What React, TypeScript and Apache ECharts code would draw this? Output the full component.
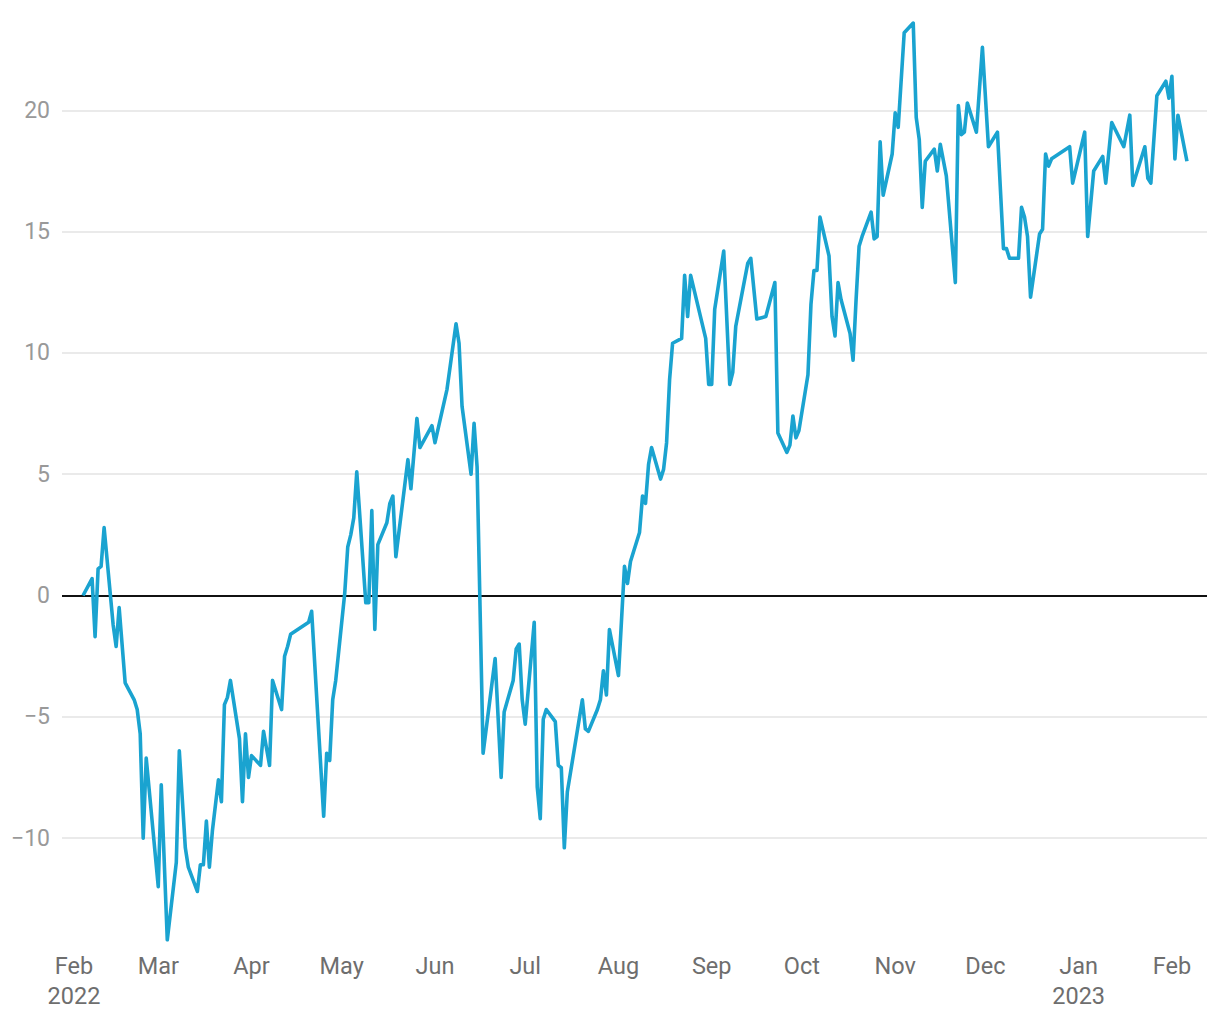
import React, { useEffect, useRef } from "react";
import * as echarts from "echarts";

const dates: string[] = [
  "2022-02-04", "2022-02-07", "2022-02-08", "2022-02-09", "2022-02-10", "2022-02-11",
  "2022-02-14", "2022-02-15", "2022-02-16", "2022-02-18", "2022-02-21", "2022-02-22",
  "2022-02-23", "2022-02-24", "2022-02-25", "2022-03-01", "2022-03-02", "2022-03-04",
  "2022-03-07", "2022-03-08", "2022-03-10", "2022-03-11", "2022-03-14", "2022-03-15",
  "2022-03-16", "2022-03-17", "2022-03-18", "2022-03-19", "2022-03-21", "2022-03-22",
  "2022-03-23", "2022-03-24", "2022-03-25", "2022-03-28", "2022-03-29", "2022-03-30",
  "2022-03-31", "2022-04-01", "2022-04-04", "2022-04-05", "2022-04-07", "2022-04-08",
  "2022-04-11", "2022-04-12", "2022-04-13", "2022-04-14", "2022-04-20", "2022-04-21",
  "2022-04-25", "2022-04-26", "2022-04-27", "2022-04-28", "2022-04-29", "2022-05-02",
  "2022-05-03", "2022-05-04", "2022-05-05", "2022-05-06", "2022-05-09", "2022-05-10",
  "2022-05-11", "2022-05-12", "2022-05-13", "2022-05-16", "2022-05-17", "2022-05-18",
  "2022-05-19", "2022-05-23", "2022-05-24", "2022-05-26", "2022-05-27", "2022-05-31",
  "2022-06-01", "2022-06-05", "2022-06-08", "2022-06-09", "2022-06-10", "2022-06-13",
  "2022-06-14", "2022-06-15", "2022-06-17", "2022-06-21", "2022-06-23", "2022-06-24",
  "2022-06-27", "2022-06-28", "2022-06-29", "2022-06-30", "2022-07-01", "2022-07-04",
  "2022-07-05", "2022-07-06", "2022-07-07", "2022-07-08", "2022-07-11", "2022-07-12",
  "2022-07-13", "2022-07-14", "2022-07-15", "2022-07-20", "2022-07-21", "2022-07-22",
  "2022-07-25", "2022-07-26", "2022-07-27", "2022-07-28", "2022-07-29", "2022-08-01",
  "2022-08-03", "2022-08-04", "2022-08-05", "2022-08-08", "2022-08-09", "2022-08-10",
  "2022-08-11", "2022-08-12", "2022-08-15", "2022-08-16", "2022-08-17", "2022-08-18",
  "2022-08-19", "2022-08-22", "2022-08-23", "2022-08-24", "2022-08-25", "2022-08-30",
  "2022-08-31", "2022-09-01", "2022-09-02", "2022-09-05", "2022-09-07", "2022-09-08",
  "2022-09-09", "2022-09-11", "2022-09-13", "2022-09-14", "2022-09-16", "2022-09-19",
  "2022-09-22", "2022-09-23", "2022-09-26", "2022-09-27", "2022-09-28", "2022-09-29",
  "2022-09-30", "2022-10-03", "2022-10-04", "2022-10-05", "2022-10-06", "2022-10-07",
  "2022-10-10", "2022-10-11", "2022-10-12", "2022-10-13", "2022-10-14", "2022-10-17",
  "2022-10-18", "2022-10-19", "2022-10-20", "2022-10-21", "2022-10-24", "2022-10-25",
  "2022-10-26", "2022-10-27", "2022-10-28", "2022-10-31", "2022-11-01", "2022-11-02",
  "2022-11-04", "2022-11-07", "2022-11-08", "2022-11-09", "2022-11-10", "2022-11-11",
  "2022-11-14", "2022-11-15", "2022-11-16", "2022-11-18", "2022-11-21", "2022-11-22",
  "2022-11-23", "2022-11-24", "2022-11-25", "2022-11-28", "2022-11-30", "2022-12-02",
  "2022-12-05", "2022-12-07", "2022-12-08", "2022-12-09", "2022-12-12", "2022-12-13",
  "2022-12-14", "2022-12-15", "2022-12-16", "2022-12-19", "2022-12-20", "2022-12-21",
  "2022-12-22", "2022-12-23", "2022-12-29", "2022-12-30", "2023-01-03", "2023-01-04",
  "2023-01-06", "2023-01-09", "2023-01-10", "2023-01-12", "2023-01-16", "2023-01-18",
  "2023-01-19", "2023-01-23", "2023-01-24", "2023-01-25", "2023-01-27", "2023-01-30",
  "2023-01-31", "2023-02-01", "2023-02-02", "2023-02-03", "2023-02-06",
];

const values: number[] = [
  0.0, 0.7, -1.7, 1.1, 1.2, 2.8,
  -1.2, -2.1, -0.5, -3.6, -4.3, -4.7,
  -5.7, -10.0, -6.7, -12.0, -7.8, -14.2,
  -11.0, -6.4, -10.4, -11.2, -12.2, -11.1,
  -11.1, -9.3, -11.2, -9.7, -7.6, -8.5,
  -4.5, -4.2, -3.5, -5.9, -8.5, -5.7,
  -7.5, -6.6, -7.0, -5.6, -7.0, -3.5,
  -4.7, -2.5, -2.1, -1.6, -1.1, -0.65,
  -9.1, -6.5, -6.8, -4.3, -3.5, 0.1,
  2.0, 2.5, 3.2, 5.1, -0.3, -0.3,
  3.5, -1.4, 2.1, 3.0, 3.8, 4.1,
  1.6, 5.6, 4.4, 7.3, 6.1, 7.0,
  6.3, 8.5, 11.2, 10.4, 7.8, 5.0,
  7.1, 5.3, -6.5, -2.6, -7.5, -4.8,
  -3.5, -2.2, -2.0, -4.3, -5.3, -1.1,
  -7.9, -9.2, -5.1, -4.7, -5.2, -7.0,
  -7.1, -10.4, -8.1, -4.3, -5.5, -5.6,
  -4.7, -4.3, -3.1, -4.1, -1.4, -3.3,
  1.2, 0.5, 1.4, 2.6, 4.1, 3.8,
  5.4, 6.1, 4.8, 5.2, 6.3, 8.9,
  10.4, 10.6, 13.2, 11.5, 13.2, 10.6,
  8.7, 8.7, 11.8, 14.2, 8.7, 9.2,
  11.1, 12.4, 13.7, 13.9, 11.4, 11.5,
  12.9, 6.7, 5.9, 6.2, 7.4, 6.5,
  6.8, 9.1, 12.0, 13.4, 13.4, 15.6,
  14.0, 11.5, 10.7, 12.9, 12.2, 10.8,
  9.7, 12.2, 14.4, 14.8, 15.8, 14.7,
  14.8, 18.7, 16.5, 18.2, 19.9, 19.3,
  23.2, 23.6, 19.7, 18.8, 16.0, 17.9,
  18.4, 17.5, 18.6, 17.3, 12.9, 20.2,
  19.0, 19.1, 20.3, 19.1, 22.6, 18.5,
  19.1, 14.3, 14.3, 13.9, 13.9, 16.0,
  15.6, 14.8, 12.3, 14.9, 15.1, 18.2,
  17.7, 18.0, 18.5, 17.0, 19.1, 14.8,
  17.5, 18.1, 17.0, 19.5, 18.5, 19.8,
  16.9, 18.5, 17.2, 17.0, 20.6, 21.2,
  20.5, 21.4, 18.0, 19.8, 17.9,
];

const tickDates: string[] = [
  "2022-02-01", "2022-03-01", "2022-04-01", "2022-05-01", "2022-06-01", "2022-07-01",
  "2022-08-01", "2022-09-01", "2022-10-01", "2022-11-01", "2022-12-01", "2023-01-01",
  "2023-02-01",
];
const tickLabels: string[] = [
  "Feb\n2022", "Mar", "Apr", "May", "Jun", "Jul", "Aug", "Sep", "Oct", "Nov", "Dec",
  "Jan\n2023", "Feb",
];

const xRangeStart = "2022-01-28 00:00";
const xRangeEnd = "2023-02-12 16:00";

function parseLocal(s: string): number {
  const [d, t] = s.split(" ");
  const [y, m, day] = d.split("-").map(Number);
  let h = 0;
  let mi = 0;
  if (t) {
    const parts = t.split(":").map(Number);
    h = parts[0];
    mi = parts[1];
  }
  return new Date(y, m - 1, day, h, mi).getTime();
}

export default function App() {
  const ref = useRef<HTMLDivElement>(null);

  useEffect(() => {
    if (!ref.current) return;
    const chart = echarts.init(ref.current, undefined, { renderer: "svg" });
    const tickTimes = tickDates.map(parseLocal);
    const seriesData = dates.map((d, i) => [parseLocal(d), values[i]]);

    chart.setOption({
      animation: false,
      textStyle: { fontFamily: "Roboto" },
      grid: { left: 62, right: 13, top: 23, bottom: 80, containLabel: false },
      xAxis: {
        type: "value",
        min: parseLocal(xRangeStart),
        max: parseLocal(xRangeEnd),
        axisLine: { show: false },
        axisTick: { show: false, customValues: tickTimes },
        splitLine: { show: false },
        axisLabel: {
          customValues: tickTimes,
          color: "#6e6e6e",
          fontSize: 23.5,
          lineHeight: 30,
          margin: 11,
          fontFamily: "Roboto",
          formatter: (value: number) => {
            let best = 0;
            let bestDiff = Infinity;
            tickTimes.forEach((t, i) => {
              const diff = Math.abs(t - value);
              if (diff < bestDiff) {
                bestDiff = diff;
                best = i;
              }
            });
            return tickLabels[best];
          },
        },
      },
      yAxis: {
        type: "value",
        min: (v: any) => v.min,
        max: (v: any) => v.max,
        splitNumber: 8,
        minInterval: 5,
        maxInterval: 5,
        axisLine: { show: false },
        axisTick: { show: false },
        axisLabel: {
          showMinLabel: false,
          showMaxLabel: false,
          color: "#999999",
          fontSize: 23,
          margin: 12,
          fontFamily: "Roboto",
          formatter: (value: number) => String(value).replace("-", "\u2212"),
        },
        splitLine: {
          show: true,
          showMinLine: false,
          showMaxLine: false,
          lineStyle: { color: "#e3e3e3", width: 1.5 },
        },
      },
      series: [
        {
          type: "line",
          data: seriesData,
          showSymbol: false,
          symbol: "none",
          lineStyle: { color: "#1aa3d0", width: 3.6, join: "round" },
          z: 3,
          markLine: {
            silent: true,
            symbol: ["none", "none"],
            label: { show: false },
            lineStyle: { color: "#111111", width: 1.8, type: "solid" },
            data: [{ yAxis: 0 }],
            z: 2,
          },
        },
      ],
    });

    return () => chart.dispose();
  }, []);

  return (
    <div
      ref={ref}
      style={{ position: "absolute", left: 0, top: 0, width: 1220, height: 1020 }}
    />
  );
}
